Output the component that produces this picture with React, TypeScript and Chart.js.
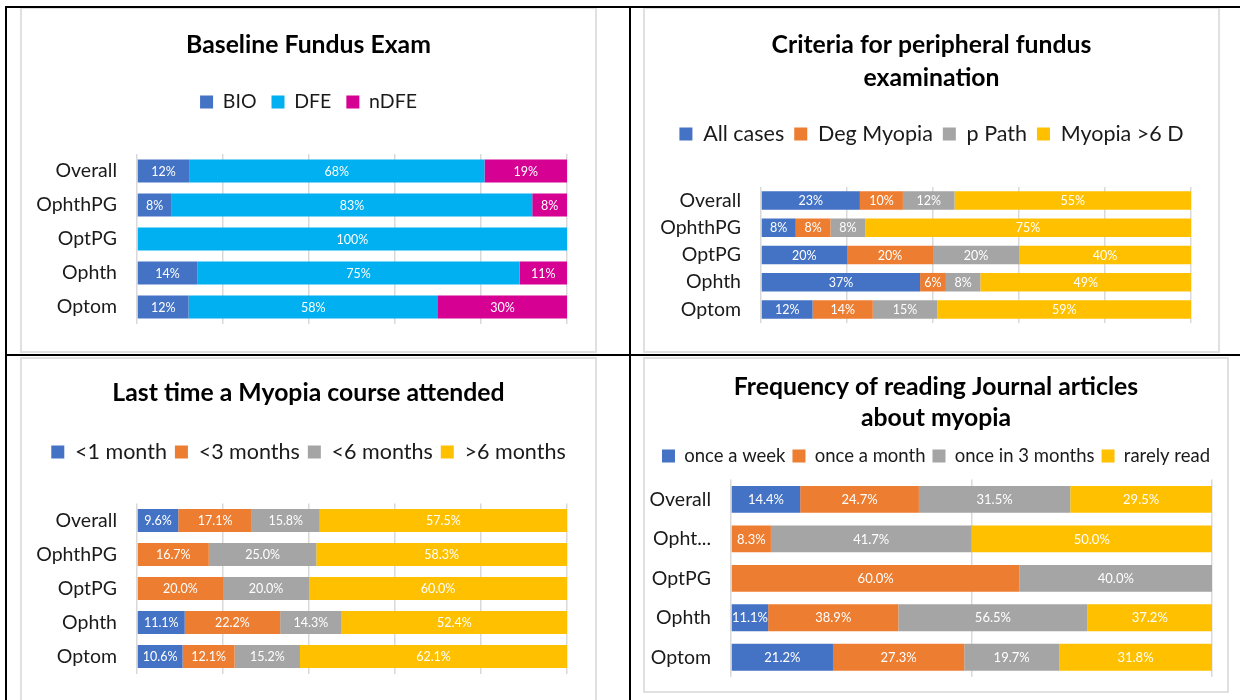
import React, { useEffect, useRef } from "react";
import { Chart, registerables } from "chart.js";

Chart.register(...registerables);

const FONT = "Lato, 'Open Sans', sans-serif";

// ---------- Data ----------
const categories1 = ["Overall", "OphthPG", "OptPG", "Ophth", "Optom"];
const bio = [12, 8, 0, 14, 12];
const dfe = [68, 83, 100, 75, 58];
const ndfe = [19, 8, 0, 11, 30];

const categories2 = ["Overall", "OphthPG", "OptPG", "Ophth", "Optom"];
const allCases = [23, 8, 20, 37, 12];
const degMyopia = [10, 8, 20, 6, 14];
const pPath = [12, 8, 20, 8, 15];
const myopiaOver6D = [55, 75, 40, 49, 59];

const categories3 = ["Overall", "OphthPG", "OptPG", "Ophth", "Optom"];
const lessThan1Month = [9.6, 0, 0, 11.1, 10.6];
const lessThan3Months = [17.1, 16.7, 20.0, 22.2, 12.1];
const lessThan6Months = [15.8, 25.0, 20.0, 14.3, 15.2];
const moreThan6Months = [57.5, 58.3, 60.0, 52.4, 62.1];

const categories4 = ["Overall", "Opht...", "OptPG", "Ophth", "Optom"];
const onceAWeek = [14.4, 0, 0, 11.1, 21.2];
const onceAMonth = [24.7, 8.3, 60.0, 38.9, 27.3];
const onceIn3Months = [31.5, 41.7, 40.0, 56.5, 19.7];
const rarelyRead = [29.5, 50.0, 0, 37.2, 31.8];

const BLUE = "#4472C4";
const CYAN = "#00B0F0";
const MAGENTA = "#D60093";
const ORANGE = "#ED7D31";
const GRAY = "#A5A5A5";
const YELLOW = "#FFC000";

type Series = { label: string; values: number[]; color: string };

type Cfg = {
  width: number;
  height: number;
  categories: string[];
  series: Series[];
  title: string | string[];
  titleSize: number;
  titleLH: number;
  titlePadTop: number;
  titlePadBottom: number;
  legendSize: number;
  legendPad: number;
  legendExtra: number;
  axisWidth: number;
  padRight: number;
  padBottom: number;
  gridStep: number;
  decimals: number;
  labelSize: number;
};

function StackedChart({ cfg }: { cfg: Cfg }) {
  const ref = useRef<HTMLCanvasElement | null>(null);
  useEffect(() => {
    if (!ref.current) return;
    const n = cfg.categories.length;
    const totals: number[] = [];
    for (let i = 0; i < n; i++) {
      totals.push(cfg.series.reduce((a, s) => a + s.values[i], 0));
    }
    const legendGap = {
      id: "legendGap",
      beforeInit(chart: any) {
        const lg = chart.legend;
        if (!lg) return;
        const orig = lg.fit;
        lg.fit = function () {
          orig.call(this);
          this.height += cfg.legendExtra;
        };
      },
    };
    const valueLabels = {
      id: "valueLabels",
      afterDatasetsDraw(chart: any) {
        const ctx = chart.ctx;
        ctx.save();
        ctx.font = `${cfg.labelSize}px ${FONT}`;
        ctx.fillStyle = "#ffffff";
        ctx.textAlign = "center";
        ctx.textBaseline = "middle";
        cfg.series.forEach((s, di) => {
          const meta = chart.getDatasetMeta(di);
          meta.data.forEach((el: any, i: number) => {
            const v = s.values[i];
            if (!v) return;
            const p = el.getProps(["x", "base", "y"], true);
            ctx.fillText(v.toFixed(cfg.decimals) + "%", (p.x + p.base) / 2, p.y + 0.5);
          });
        });
        ctx.restore();
      },
    };
    const chart = new Chart(ref.current, {
      type: "bar",
      data: {
        labels: cfg.categories,
        datasets: cfg.series.map((s) => ({
          label: s.label,
          data: s.values.map((v, i) => (v / totals[i]) * 100),
          backgroundColor: s.color,
          borderWidth: 0,
          barPercentage: 0.68,
          categoryPercentage: 1,
          yAxisID: "y",
          xAxisID: "x",
        })),
      },
      options: {
        indexAxis: "y",
        responsive: false,
        maintainAspectRatio: false,
        animation: false,
        layout: { padding: { top: 0, left: 0, right: 0, bottom: cfg.padBottom } },
        scales: {
          x: {
            stacked: true,
            min: 0,
            max: 100,
            ticks: { display: false, stepSize: cfg.gridStep },
            grid: { color: "#d9d9d9", lineWidth: 1.5, drawTicks: false },
            border: { display: false },
            afterFit: (s: any) => {
              s.height = 0;
              s.paddingLeft = 0;
              s.paddingRight = 0;
            },
          },
          y: {
            stacked: true,
            position: "left",
            ticks: {
              autoSkip: false,
              padding: 20,
              color: "#1a1a1a",
              font: { family: FONT, size: 19.5 },
            },
            grid: { display: false, drawTicks: false },
            border: { display: false },
            afterFit: (s: any) => {
              s.width = cfg.axisWidth;
              s.paddingTop = 0;
              s.paddingBottom = 0;
            },
          },
          yRight: {
            type: "linear",
            position: "right",
            display: true,
            ticks: { display: false },
            grid: { display: false, drawTicks: false },
            border: { display: false },
            afterFit: (s: any) => {
              s.width = cfg.padRight;
              s.paddingTop = 0;
              s.paddingBottom = 0;
            },
          },
        },
        plugins: {
          title: {
            display: true,
            text: cfg.title,
            color: "#000000",
            font: { family: FONT, size: cfg.titleSize, weight: "bold", lineHeight: cfg.titleLH },
            padding: { top: cfg.titlePadTop, bottom: cfg.titlePadBottom },
          },
          legend: {
            display: true,
            position: "top",
            labels: {
              boxWidth: 13,
              boxHeight: 13,
              padding: cfg.legendPad,
              color: "#1a1a1a",
              font: { family: FONT, size: cfg.legendSize },
            },
          },
          tooltip: { enabled: false },
        },
      } as any,
      plugins: [legendGap, valueLabels] as any,
    });
    return () => chart.destroy();
  }, [cfg]);
  return (
    <canvas
      ref={ref}
      width={cfg.width}
      height={cfg.height}
      style={{ display: "block", width: cfg.width, height: cfg.height }}
    />
  );
}

const cfg1: Cfg = {
  width: 573,
  height: 342,
  categories: categories1,
  series: [
    { label: "BIO", values: bio, color: BLUE },
    { label: "DFE", values: dfe, color: CYAN },
    { label: "nDFE", values: ndfe, color: MAGENTA },
  ],
  title: "Baseline Fundus Exam",
  titleSize: 24.75,
  titleLH: 1.2,
  titlePadTop: 21.15,
  titlePadBottom: 17.4,
  legendSize: 19.5,
  legendPad: 15,
  legendExtra: 32.25,
  axisWidth: 115,
  padRight: 28,
  padBottom: 27,
  gridStep: 20,
  decimals: 0,
  labelSize: 12.5,
};

const cfg2: Cfg = {
  width: 573,
  height: 342,
  categories: categories2,
  series: [
    { label: "All cases", values: allCases, color: BLUE },
    { label: "Deg Myopia", values: degMyopia, color: ORANGE },
    { label: "p Path", values: pPath, color: GRAY },
    { label: "Myopia >6 D", values: myopiaOver6D, color: YELLOW },
  ],
  title: ["Criteria for peripheral fundus", "examination"],
  titleSize: 24.75,
  titleLH: 1.3333,
  titlePadTop: 19.5,
  titlePadBottom: 18.75,
  legendSize: 21.5,
  legendPad: 10,
  legendExtra: 32.25,
  axisWidth: 116,
  padRight: 27,
  padBottom: 28,
  gridStep: 20,
  decimals: 0,
  labelSize: 12.5,
};

const cfg3: Cfg = {
  width: 573,
  height: 346,
  categories: categories3,
  series: [
    { label: "<1 month", values: lessThan1Month, color: BLUE },
    { label: "<3 months", values: lessThan3Months, color: ORANGE },
    { label: "<6 months", values: lessThan6Months, color: GRAY },
    { label: ">6 months", values: moreThan6Months, color: YELLOW },
  ],
  title: "Last time a Myopia course attended",
  titleSize: 24.75,
  titleLH: 1.2,
  titlePadTop: 19.15,
  titlePadBottom: 25.4,
  legendSize: 21.5,
  legendPad: 8,
  legendExtra: 30.75,
  axisWidth: 115,
  padRight: 28,
  padBottom: 31.5,
  gridStep: 20,
  decimals: 1,
  labelSize: 12.5,
};

const cfg4: Cfg = {
  width: 582,
  height: 332,
  categories: categories4,
  series: [
    { label: "once a week", values: onceAWeek, color: BLUE },
    { label: "once a month", values: onceAMonth, color: ORANGE },
    { label: "once in 3 months", values: onceIn3Months, color: GRAY },
    { label: "rarely read", values: rarelyRead, color: YELLOW },
  ],
  title: ["Frequency of reading Journal articles", "about myopia"],
  titleSize: 24.75,
  titleLH: 1.2525,
  titlePadTop: 12.5,
  titlePadBottom: 6.25,
  legendSize: 18.5,
  legendPad: 7,
  legendExtra: 4.35,
  axisWidth: 86,
  padRight: 15,
  padBottom: 14,
  gridStep: 50,
  decimals: 1,
  labelSize: 13,
};

const line = (l: number, t: number, w: number, h: number) => (
  <div style={{ position: "absolute", left: l, top: t, width: w, height: h, background: "#000" }} />
);

const box = (l: number, t: number, w: number, h: number, cfg: Cfg) => (
  <div
    style={{
      position: "absolute",
      left: l,
      top: t,
      width: w,
      height: h,
      boxSizing: "border-box",
      border: "2px solid #e0e0e0",
      background: "#fff",
      overflow: "hidden",
    }}
  >
    <StackedChart cfg={cfg} />
  </div>
);

export default function App() {
  return (
    <div
      style={{
        position: "fixed",
        left: 0,
        top: 0,
        width: 1240,
        height: 700,
        overflow: "hidden",
        background: "#fff",
      }}
    >
      {box(20, 7, 577, 346, cfg1)}
      {box(643, 7, 577, 346, cfg2)}
      {box(20, 357, 577, 350, cfg3)}
      {box(643, 357, 586, 336, cfg4)}
      {line(5, 6, 1235, 2)}
      {line(5, 6, 2, 694)}
      {line(629, 6, 2, 694)}
      {line(5, 354, 1235, 2)}
    </div>
  );
}
